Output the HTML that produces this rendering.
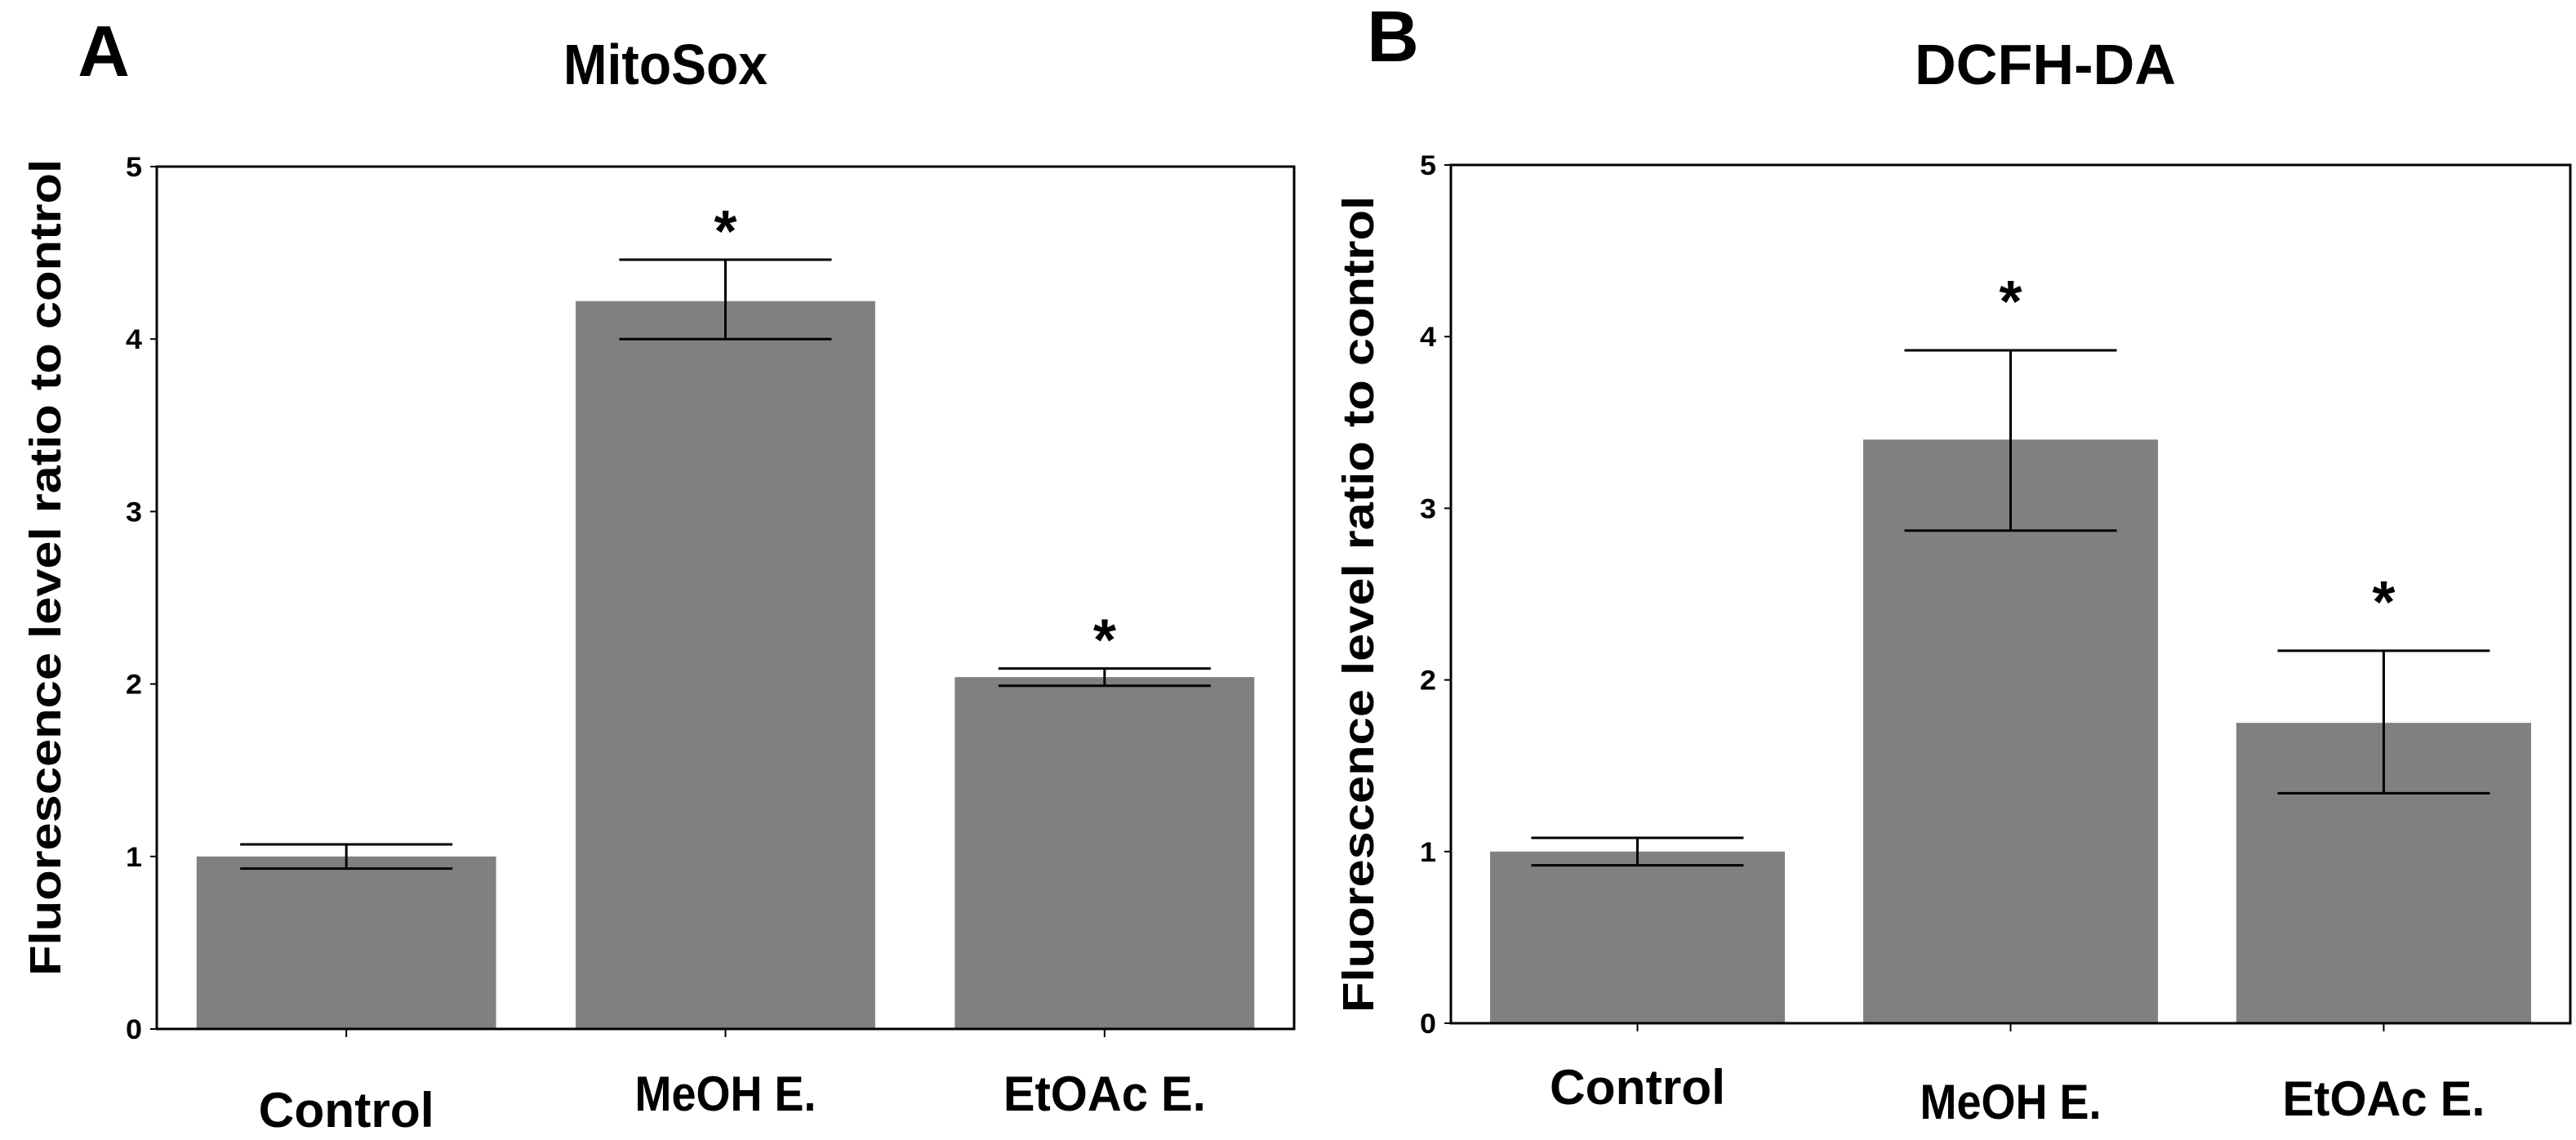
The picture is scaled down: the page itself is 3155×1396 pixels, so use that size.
<!DOCTYPE html>
<html><head><meta charset="utf-8"><style>
html,body{margin:0;padding:0;background:#fff;}
svg{display:block;font-family:"Liberation Sans",sans-serif;}
</style></head><body>
<svg id="chart" width="3155" height="1396" viewBox="0 0 3155 1396" xmlns="http://www.w3.org/2000/svg">
<text x="127" y="93" font-size="88" font-weight="bold" text-anchor="middle">A</text>
<text x="815" y="103" font-size="70" font-weight="bold" text-anchor="middle" textLength="250" lengthAdjust="spacingAndGlyphs">MitoSox</text>
<text x="1706" y="75" font-size="88" font-weight="bold" text-anchor="middle">B</text>
<text x="2505" y="103" font-size="70" font-weight="bold" text-anchor="middle" textLength="320" lengthAdjust="spacingAndGlyphs">DCFH-DA</text>
<g id="pa"></g><g id="pb"></g>
</svg>
<script>
const categories = ["Control", "MeOH E.", "EtOAc E."];
const mitoValues = [1.0, 4.22, 2.04];
const mitoErrLow = [0.93, 4.0, 1.99];
const mitoErrHigh = [1.07, 4.46, 2.09];
const mitoSig = [false, true, true];
const dcfhValues = [1.0, 3.4, 1.75];
const dcfhErrLow = [0.92, 2.87, 1.34];
const dcfhErrHigh = [1.08, 3.92, 2.17];
const dcfhSig = [false, true, true];
const yTicks = [0, 1, 2, 3, 4, 5];

const NS = "http://www.w3.org/2000/svg";
const labelLen = [215, 222, 248];
function mk(parent, tag, attrs, txt) {
  const e = document.createElementNS(NS, tag);
  for (const k in attrs) e.setAttribute(k, attrs[k]);
  if (txt !== undefined) e.textContent = txt;
  parent.appendChild(e);
  return e;
}
function panel(g, cfg, vals, lo, hi, sig, key) {
  const y = v => cfg.y0 - (cfg.y0 - cfg.y5) * v / 5;
  const step = (cfg.x1 - cfg.x0) / categories.length;
  const cx = i => cfg.x0 + step * (i + 0.5);
  const bw = step * 0.79;
  vals.forEach((v, i) => {
    const r = mk(g, "rect", {x: cx(i) - bw / 2, y: y(v), width: bw, height: y(0) - y(v), fill: "#808080"});
    
    
  });
  const f = mk(g, "rect", {x: cfg.x0, y: cfg.y5, width: cfg.x1 - cfg.x0, height: cfg.y0 - cfg.y5, fill: "none", stroke: "#000", "stroke-width": 3});
  
  
  yTicks.forEach(t => {
    mk(g, "line", {x1: cfg.x0 - 8, x2: cfg.x0, y1: y(t), y2: y(t), stroke: "#000", "stroke-width": 2});
    const tl = mk(g, "text", {x: cfg.x0 - 18, y: y(t) + 12, "font-size": 34, "font-weight": "bold", "text-anchor": "end", textLength: 20, lengthAdjust: "spacingAndGlyphs"}, String(t));
    
    
  });
  categories.forEach((c, i) => {
    mk(g, "line", {x1: cx(i), x2: cx(i), y1: cfg.y0, y2: cfg.y0 + 10, stroke: "#000", "stroke-width": 2});
    const xl = mk(g, "text", {x: cx(i), y: cfg.labY[i], "font-size": 60, "font-weight": "bold", "text-anchor": "middle", textLength: labelLen[i], lengthAdjust: "spacingAndGlyphs"}, c);
    
    
    const eg = mk(g, "g", {stroke: "#000", "stroke-width": 3});
    
    
    mk(eg, "line", {x1: cx(i), x2: cx(i), y1: y(lo[i]), y2: y(hi[i])});
    mk(eg, "line", {x1: cx(i) - 130, x2: cx(i) + 130, y1: y(lo[i]), y2: y(lo[i])});
    mk(eg, "line", {x1: cx(i) - 130, x2: cx(i) + 130, y1: y(hi[i]), y2: y(hi[i])});
    if (sig[i]) {
      const s = mk(g, "text", {x: cx(i), y: y(hi[i]) - cfg.starGap, "font-size": 72, "font-weight": "bold", "text-anchor": "middle"}, "*");
      
      
    }
  });
  const t = mk(g, "text", {x: 0, y: 0, "font-size": 54, "font-weight": "bold", "text-anchor": "middle", textLength: 1000, lengthAdjust: "spacingAndGlyphs", transform: "translate(" + cfg.titleX + "," + cfg.titleY + ") rotate(-90)"}, "Fluorescence level ratio to control");
  
  
}
panel(document.getElementById("pa"), {x0: 192, x1: 1585, y5: 204, y0: 1260, labY: [1380, 1360, 1360], starGap: 10, titleX: 74, titleY: 695}, mitoValues, mitoErrLow, mitoErrHigh, mitoSig, "mitosox");
panel(document.getElementById("pb"), {x0: 1777, x1: 3148, y5: 202, y0: 1253, labY: [1352, 1370, 1366], starGap: 35, titleX: 1682, titleY: 740}, dcfhValues, dcfhErrLow, dcfhErrHigh, dcfhSig, "dcfh");
</script>
</body></html>
